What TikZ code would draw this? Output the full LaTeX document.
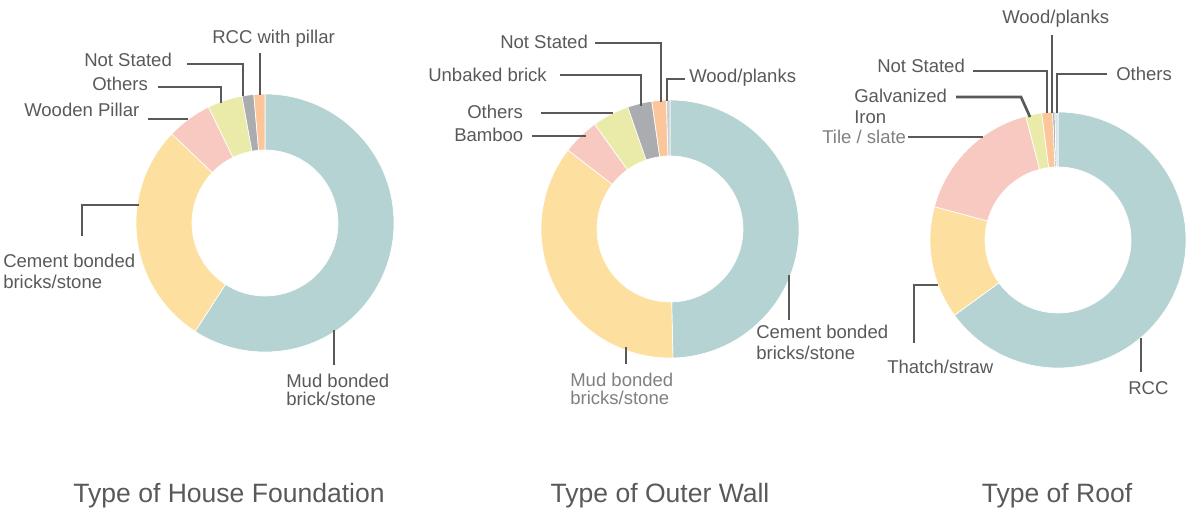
\documentclass[tikz,border=0pt]{standalone}
\usepackage{fontspec}
\setmainfont{Liberation Sans}
\usepackage{xcolor}
\usepackage{tikz}
\usetikzlibrary{calc}
\usetikzlibrary{positioning}

\definecolor{ink}{HTML}{595959}
\definecolor{inkLight}{HTML}{808080}
\definecolor{slTeal}{HTML}{B5D3D3}
\definecolor{slYellow}{HTML}{FDDFA0}
\definecolor{slPink}{HTML}{F8C9C0}
\definecolor{slLime}{HTML}{EBEBA9}
\definecolor{slGrey}{HTML}{AAACAF}
\definecolor{slOrange}{HTML}{FCC69A}
\definecolor{slSilver}{HTML}{C9CED3}
\definecolor{slSky}{HTML}{D3E3EC}

\begin{document}
\begin{tikzpicture}[
    x=0.75pt, y=0.75pt,
    lbl/.style={inner sep=0pt, text=ink, font=\fontsize{13.9}{15.5}\selectfont},
    lbl2/.style={lbl, align=left, anchor=north west},
    title/.style={inner sep=0pt, text=ink, anchor=base, font=\fontsize{19.9}{24}\selectfont},
    lead/.style={draw=ink, line width=2pt}]

    \useasboundingbox (0, 0) rectangle (1202, 516);

    % ring centres
    \coordinate (hf) at (265, 293);
    \coordinate (ow) at (670, 287);
    \coordinate (rf) at (1058, 276);

    % house foundation
    \foreach \s/\e/\c in {90/-122.8/slTeal, -122.8/-223.7/slYellow,
      -223.7/-244/slPink, -244/-259.7/slLime, -259.7/-265/slGrey,
      -265/-270/slOrange}
    \filldraw [fill=\c, draw=white, line width=0.5pt]
    ($(hf)+(\s:129)$) arc [start angle=\s, end angle=\e, radius=129]
    -- ($(hf)+(\e:73)$) arc [start angle=\e, end angle=\s, radius=73] -- cycle;

    % outer wall
    \foreach \s/\e/\c in {90/-88.7/slTeal, -88.7/-217.7/slYellow,
      -217.7/-234.3/slPink, -234.3/-250.9/slLime, -250.9/-261.9/slGrey,
      -261.9/-268.4/slOrange, -268.4/-270/slSilver}
    \filldraw [fill=\c, draw=white, line width=0.5pt]
    ($(ow)+(\s:129)$) arc [start angle=\s, end angle=\e, radius=129]
    -- ($(ow)+(\e:73)$) arc [start angle=\e, end angle=\s, radius=73] -- cycle;

    % roof
    \foreach \s/\e/\c in {90/-144/slTeal, -144/-195.1/slYellow,
      -195.1/-255.4/slPink, -255.4/-262.7/slLime, -262.7/-267.6/slOrange,
      -267.6/-268.6/slGrey, -268.6/-270/slSky}
    \filldraw [fill=\c, draw=white, line width=0.5pt]
    ($(rf)+(\s:128)$) arc [start angle=\s, end angle=\e, radius=128]
    -- ($(rf)+(\e:73)$) arc [start angle=\e, end angle=\s, radius=73] -- cycle;

    % labels: house foundation
    \node [lbl, anchor=base west] (hfRcc) at (212, 472) {RCC with pillar};
    \node [lbl, anchor=base west] (hfNs) at (84, 449) {Not Stated};
    \node [lbl, anchor=base west] (hfOth) at (92, 425) {Others};
    \node [lbl, anchor=base west] (hfWood) at (24, 399) {Wooden Pillar};
    \node [lbl2] (hfCem) at (3, 262) {Cement bonded\\bricks/stone};
    \node [lbl2] (hfMud) at (286, 142) {Mud bonded\\[-2pt]brick/stone};

    \draw [lead] (260, 463) -- (260, 421);
    \draw [lead] (187, 452) -| (243, 420);
    \draw [lead] (158, 429) -| (221, 413);
    \draw [lead] (148, 397) -- (188, 397);
    \draw [lead] (139, 311) -| (82, 280);
    \draw [lead] (334, 186) -- (334, 151);

    % labels: outer wall
    \node [lbl, anchor=base west] (owNs) at (500, 467) {Not Stated};
    \node [lbl, anchor=base west] (owUnb) at (428, 434) {Unbaked brick};
    \node [lbl, anchor=base west] (owWood) at (689, 433) {Wood/planks};
    \node [lbl, anchor=base west] (owOth) at (467, 397) {Others};
    \node [lbl, anchor=base west] (owBam) at (454, 374) {Bamboo};
    \node [lbl2] (owCem) at (756, 191) {Cement bonded\\bricks/stone};
    \node [lbl2, text=inkLight] (owMud) at (570, 143) {Mud bonded\\[-2.5pt]bricks/stone};

    \draw [lead] (595, 473) -| (661, 414);
    \draw [lead] (560, 441) -| (641, 410);
    \draw [lead] (685, 437) -| (667, 415);
    \draw [lead] (541, 403) -- (613, 403);
    \draw [lead] (532, 380) -- (586, 380);
    \draw [lead] (789, 241) -- (789, 196);
    \draw [lead] (626, 169) -- (626, 152);

    % labels: roof
    \node [lbl, anchor=base west] (rfWood) at (1002, 492) {Wood/planks};
    \node [lbl, anchor=base west] (rfNs) at (877, 443) {Not Stated};
    \node [lbl, anchor=base west] (rfOth) at (1116, 435) {Others};
    \node [lbl2] (rfGalv) at (854, 427) {Galvanized\\Iron};
    \node [lbl, anchor=base west, text=inkLight] (rfTile) at (822, 372) {Tile / slate};
    \node [lbl, anchor=base west] (rfTh) at (887, 142) {Thatch/straw};
    \node [lbl, anchor=base west] (rfRcc) at (1128, 121) {RCC};

    \draw [lead] (1052, 481) -- (1052, 403);
    \draw [lead] (973, 445) -| (1047, 403);
    \draw [lead] (1107, 442) -| (1057, 403);
    \draw [lead] (956, 419) -- (1021, 419) -- (1030, 399);
    \draw [lead] (908, 379) -- (983, 379);
    \draw [lead] (938, 231) -| (914, 173);
    \draw [lead] (1141, 178) -- (1141, 144);

    % titles
    \node [title] (tHf) at (229, 13) {Type of House Foundation};
    \node [title] (tOw) at (660, 13) {Type of Outer Wall};
    \node [title] (tRf) at (1057, 13) {Type of Roof};

  \end{tikzpicture}
\end{document}
